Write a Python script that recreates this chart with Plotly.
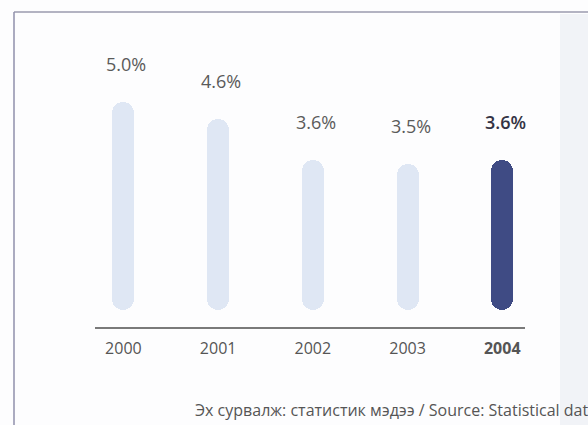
import plotly.graph_objects as go

years = ["2000", "2001", "2002", "2003", "2004"]
values = [5.0, 4.6, 3.6, 3.5, 3.6]
value_labels = ["5.0%", "4.6%", "3.6%", "3.5%", "3.6%"]
tick_labels = ["2000", "2001", "2002", "2003", "<b>2004</b>"]
highlight = "2004"
source_text = "Эх сурвалж: статистик мэдээ / Source: Statistical data"

LIGHT = "#dfe7f4"
DARK = "#3f4b84"
FONT = "Open Sans, Noto Sans, sans-serif"
colors = [DARK if y == highlight else LIGHT for y in years]

Y_MIN, Y_MAX = -0.41, 6.49
PLOT_H = 287
BAR_W = 0.232

xidx = list(range(len(years)))

fig = go.Figure()
fig.add_trace(go.Bar(
    x=xidx, y=values, base=[0] * len(values),
    width=BAR_W, marker=dict(color=colors, line=dict(width=0), cornerradius="50%"),
    hoverinfo="skip", showlegend=False,
))

for i, (y, v, lab) in enumerate(zip(years, values, value_labels)):
    hl = y == highlight
    fig.add_annotation(
        x=i, y=v, text=lab, showarrow=False,
        yanchor="middle", yshift=38, xshift=3,
        font=dict(size=18, color="#333344" if hl else "#5a5a5a", family=FONT,
                  weight=600 if hl else 400),
    )

fig.add_annotation(
    xref="paper", yref="paper", x=(193 - 95) / 430, y=-0.29, xanchor="left",
    yanchor="middle", text=source_text, showarrow=False,
    font=dict(size=16, color="#555555", family=FONT),
)

# frame lines (top and left) and light right strip
fig.add_shape(type="line", xref="paper", yref="paper",
              x0=(14 - 95) / 430, x1=(588 - 95) / 430, y0=(327 - 12) / PLOT_H, y1=(327 - 12) / PLOT_H,
              line=dict(color="#9a9aae", width=1.5))
fig.add_shape(type="line", xref="paper", yref="paper",
              x0=(14 - 95) / 430, x1=(14 - 95) / 430, y0=(327 - 12) / PLOT_H, y1=(327 - 425) / PLOT_H,
              line=dict(color="#8f8fab", width=1.5))
fig.add_shape(type="rect", xref="paper", yref="paper", layer="below",
              x0=(560 - 95) / 430, x1=(588 - 95) / 430, y0=(327 - 14) / PLOT_H, y1=(327 - 425) / PLOT_H,
              fillcolor="#f1f3f7", line=dict(width=0))

fig.update_layout(
    width=588, height=425,
    margin=dict(l=95, r=63, t=40, b=98),
    paper_bgcolor="#fdfdfe", plot_bgcolor="rgba(0,0,0,0)",
    barmode="overlay", bargap=0,
    font=dict(family=FONT),
    xaxis=dict(
        range=[-0.3, 4.24], showgrid=False, zeroline=False,
        showline=True, linecolor="#7a7a7a", linewidth=1.5, ticks="",
        tickmode="array", tickvals=xidx, ticktext=tick_labels,
        tickfont=dict(size=16, color="#555555"), ticklabelstandoff=6,
    ),
    yaxis=dict(range=[Y_MIN, Y_MAX], visible=False, showgrid=False, zeroline=False),
)

fig.write_html("out.html", config={"displayModeBar": False},
               post_script="document.body.style.margin='0';")
